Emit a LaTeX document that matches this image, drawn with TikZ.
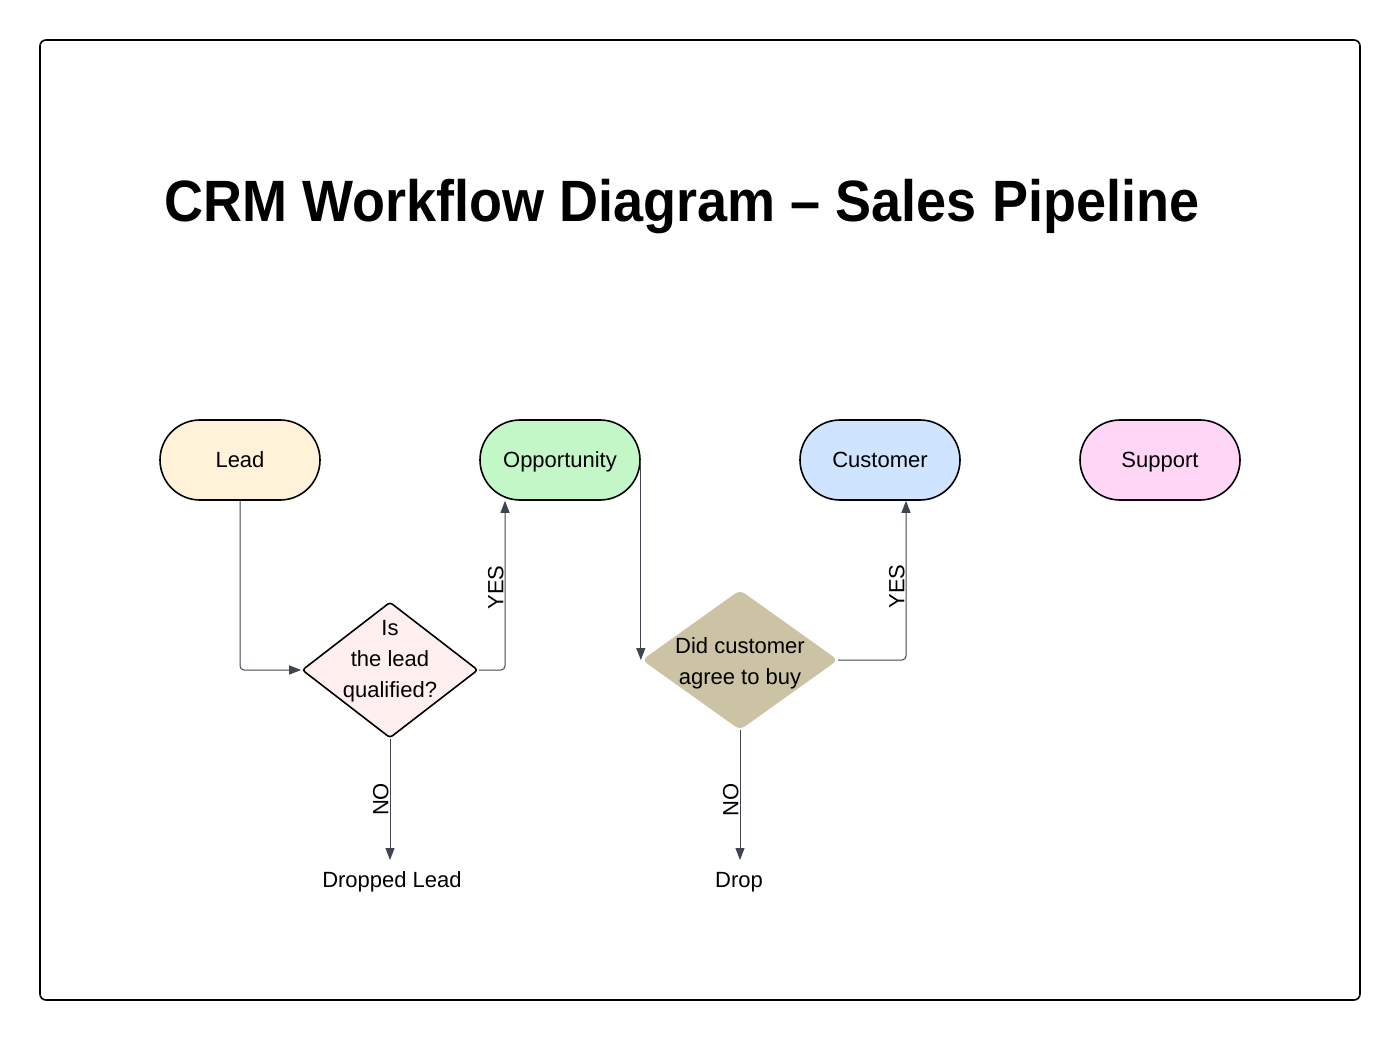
\documentclass[tikz,border=0pt]{standalone}
\usepackage{fontspec}
\setmainfont{Liberation Sans}
\usetikzlibrary{shapes.geometric,arrows.meta}
\definecolor{leadfill}{HTML}{FFF2D9}
\definecolor{oppfill}{HTML}{C3F7C8}
\definecolor{custfill}{HTML}{CFE4FF}
\definecolor{suppfill}{HTML}{FFD6F5}
\definecolor{qfill}{HTML}{FFF0EF}
\definecolor{buyfill}{HTML}{CBC3A3}
\definecolor{conn}{HTML}{3F4550}
\tikzset{
  stadium/.style={draw=black, line width=1.6pt, rounded corners=40pt,
    minimum width=160pt, minimum height=80pt, inner sep=0pt,
    text height=16pt, text depth=1pt,
    font=\fontsize{22}{26}\selectfont},
  decbox/.style={diamond, inner sep=0pt},
  dectext/.style={align=center, font=\fontsize{22}{31}\selectfont},
  plain/.style={font=\fontsize{22}{26}\selectfont, inner sep=0pt, anchor=base},
  connector/.style={draw=conn, line width=1pt, rounded corners=4pt,
    -{Triangle[length=12pt,width=9pt]}},
  edgelabel/.style={rotate=90, font=\fontsize{22}{26}\selectfont, inner sep=1pt, anchor=south}
}
\begin{document}
\begin{tikzpicture}[x=1pt,y=-1pt]
\useasboundingbox (0,0) rectangle (1400,1040);
\draw[line width=1.6pt, rounded corners=6pt] (40,40) rectangle (1360,1000);
\node[font=\bfseries\fontsize{54}{60}\selectfont, anchor=base, inner sep=0pt] (title) at (682,222) {\scalebox{1}[1.08]{CRM Workflow Diagram – Sales Pipeline}};

\node[stadium, fill=leadfill] (lead) at (240,460) {Lead};
\node[stadium, fill=oppfill] (opp) at (560,460) {Opportunity};
\node[stadium, fill=custfill] (cust) at (880,460) {Customer};
\node[stadium, fill=suppfill] (supp) at (1160,460) {Support};

\node[decbox, draw=black, line width=1.6pt, rounded corners=3pt, fill=qfill,
  minimum width=176pt, minimum height=136pt] (q) at (390,670) {};
\node[dectext] (qt) at (390,661) {Is\\the lead\\qualified?};

\node[decbox, fill=buyfill, rounded corners=6pt,
  minimum width=196pt, minimum height=140pt] (buy) at (740,660) {};
\node[dectext] (buyt) at (740,663) {Did customer\\agree to buy};

\node[plain] (dl) at (392,887) {Dropped Lead};
\node[plain] (drop) at (739,887) {Drop};
\coordinate (dlin) at (390,860);
\coordinate (dropin) at (740,860);

\draw[connector] (lead.south) |- (q.west);
\draw[connector] (q.east) -| node[edgelabel, pos=0.744] {YES} ([xshift=-55pt]opp.south);
\draw[connector] (opp.east) -- (opp.east |- buy.west);
\draw[connector] (buy.east) -| node[edgelabel, pos=0.731] {YES} ([xshift=26pt]cust.south);
\draw[connector] (q.south) -- node[edgelabel, pos=0.5] {NO} (dlin);
\draw[connector] (buy.south) -- node[edgelabel, pos=0.54] {NO} (dropin);
\end{tikzpicture}
\end{document}
